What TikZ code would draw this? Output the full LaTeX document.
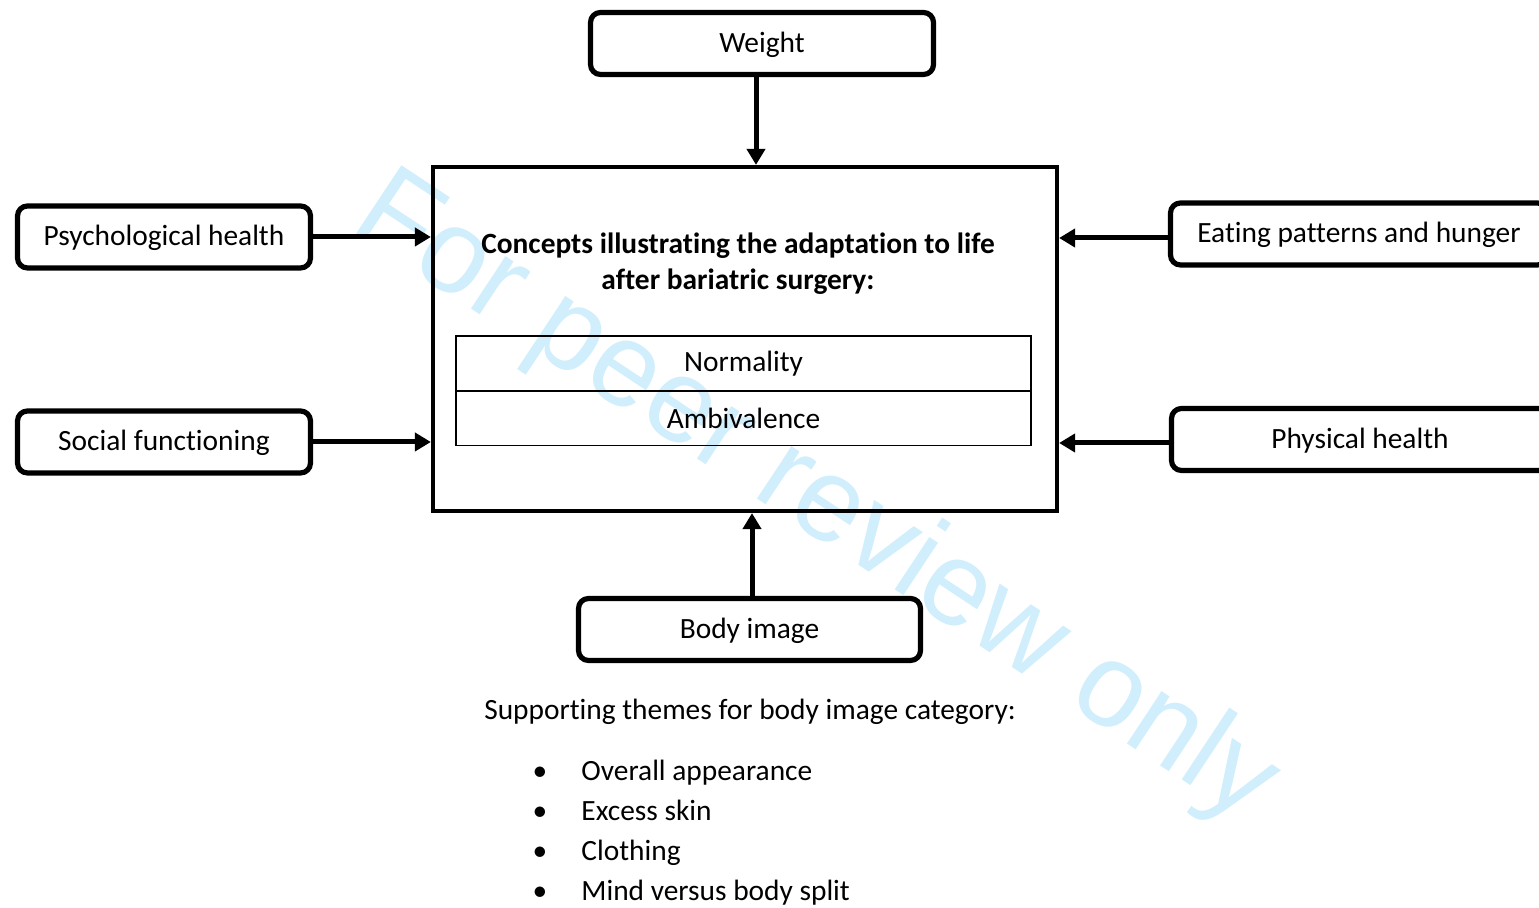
\documentclass[tikz,border=0pt]{standalone}
\usepackage{fontspec}
\setmainfont{Carlito}[Ligatures=NoCommon]
\newfontfamily\markfont{Liberation Sans}
\usepackage{tikz}
\usetikzlibrary{arrows.meta, positioning}
\definecolor{markblue}{RGB}{208,238,252}
\newcommand{\diagfont}{\fontsize{14.7}{18}\selectfont}
\tikzset{
  catbox/.style = {align=center, font=\diagfont, draw=black,
    line width=2.6pt, rounded corners=5pt, minimum height=31pt,
    text height=11pt, text depth=2pt},
  themecell/.style = {font=\diagfont, draw=black, line width=0.6pt,
    minimum width=287.5pt, minimum height=27.5pt},
  link/.style = {->, line width=2.5pt}
}

\begin{document}
\begin{tikzpicture}[x=0.5pt, y=-0.5pt, >={Triangle[length=8pt,width=9pt]}]
\useasboundingbox (0,0) rectangle (1539,908);
% watermark
\node [anchor=base west, rotate=-33.5, inner sep=0pt, text=markblue,
  font=\markfont\fontsize{59.5}{59.5}\selectfont] (mark) at (348,228) {For peer review only};
% centre box
\node [draw=black, line width=2.1pt, minimum width=312pt, minimum height=172pt] (concepts) at (745,339) {};
\node [font=\diagfont\bfseries, align=center] (title) at (738,264)
  {Concepts illustrating the adaptation to life\\after bariatric surgery:};
\node [themecell] (normality) at (743.5,363.5) {Normality};
\node [themecell] (ambivalence) at (743.5,418) {Ambivalence};
% categories
\node [catbox, minimum width=171.5pt] (weight) at (762,43.5) {Weight};
\node [catbox, minimum width=146.5pt] (psych) at (164,237) {Psychological health};
\node [catbox, minimum width=146.5pt] (social) at (164,442) {Social functioning};
\node [catbox, minimum width=188.5pt] (eating) at (1359,234) {Eating patterns and hunger};
\node [catbox, minimum width=188.5pt] (physical) at (1360,439.5) {Physical health};
\node [catbox, minimum width=171pt] (body) at (749.5,629.5) {Body image};
% arrows into the centre box
\draw [link] ([xshift=-3pt]weight.south) -- ([xshift=-3pt]weight.south |- concepts.north);
\draw [link] (psych.east) -- (psych.east -| concepts.west);
\draw [link] (social.east) -- (social.east -| concepts.west);
\draw [link] ([yshift=-2pt]eating.west) -- ([yshift=-2pt]eating.west -| concepts.east);
\draw [link] ([yshift=-1.75pt]physical.west) -- ([yshift=-1.75pt]physical.west -| concepts.east);
\draw [link] ([xshift=1.25pt]body.north) -- ([xshift=1.25pt]body.north |- concepts.south);
% supporting themes
\node [font=\diagfont] (support) at (750,712) {Supporting themes for body image category:};
\foreach \txt [count=\i] in {Overall appearance, Excess skin, Clothing, Mind versus body split} {
  \node [font=\diagfont, anchor=base] (dot\i) at (540,741+40*\i) {•};
  \node [font=\diagfont, anchor=base west, inner xsep=0pt] (item\i) at (581,741+40*\i) {\txt};
}
\end{tikzpicture}
\end{document}
